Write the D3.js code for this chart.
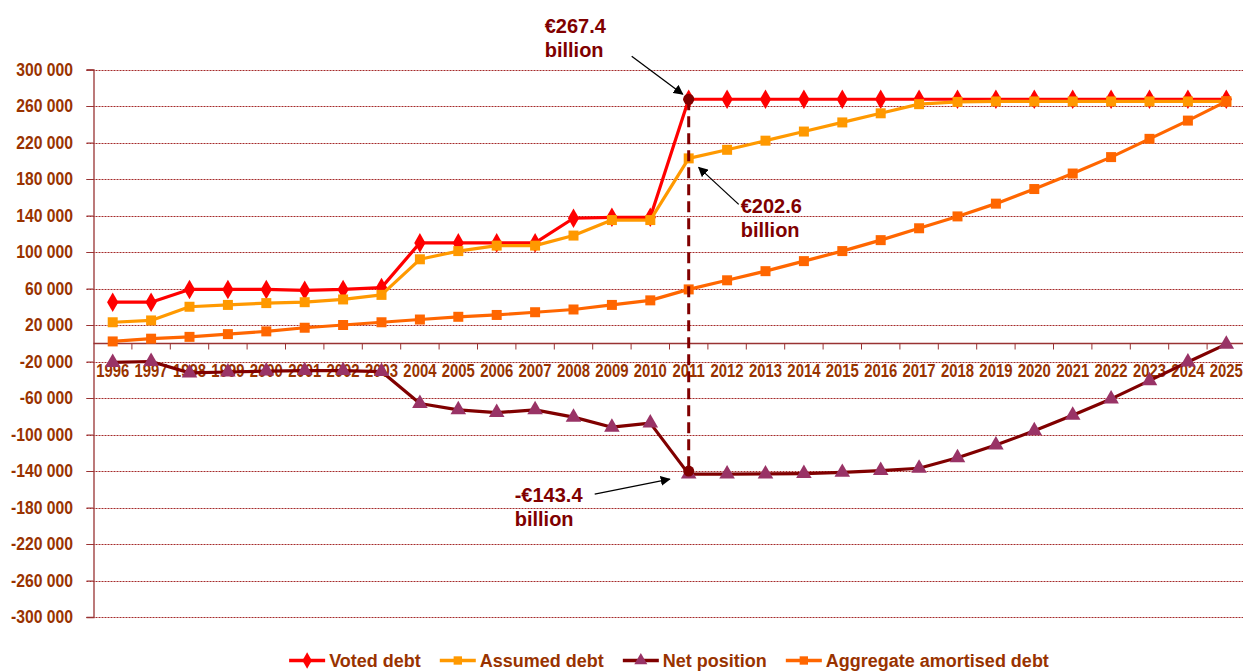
<!DOCTYPE html>
<html>
<head>
<meta charset="utf-8">
<script src="https://cdn.jsdelivr.net/npm/d3@7"></script>
<style>
  body { margin: 0; background: #fff; }
  svg { display: block; }
  text { font-family: "Liberation Sans", Arial, sans-serif; }
</style>
</head>
<body>
<div class="chart"></div>
<script>
// data (millions of euros)
const years = d3.range(1996, 2026).map(String);
const votedDebt = [45000, 45000, 59000, 59000, 59000, 58000, 59000, 61000, 110000, 110000,
  110000, 110000, 137000, 138000, 138000, 267400, 267400, 267400, 267400, 267400,
  267400, 267400, 267400, 267400, 267400, 267400, 267400, 267400, 267400, 267400];
const assumedDebt = [23000, 25000, 40000, 42000, 44000, 45000, 48000, 53000, 92000, 101000,
  107000, 107000, 118000, 135000, 135000, 202600, 212000, 222000, 232000, 242000,
  252000, 262000, 264500, 265000, 265000, 265000, 265000, 265000, 265000, 265000];
const netPosition = [-21000, -20000, -32500, -31500, -30500, -30000, -30000, -31000, -66000, -73000,
  -76000, -73000, -81000, -92000, -87500, -143400, -143400, -143200, -142800, -141500,
  -139500, -137000, -125500, -111500, -96000, -79000, -61000, -41000, -20500, -1000];
const amortisedDebt = [2000, 5000, 7000, 10000, 13000, 17000, 20000, 23000, 26000, 29000,
  31000, 34000, 37000, 42000, 47000, 59000, 69000, 79000, 90000, 101000,
  113000, 126000, 139000, 153000, 169000, 186000, 204000, 224000, 244000, 265000];
const yTicks = d3.range(-300000, 300001, 40000);

const series = [
  {name: "Voted debt", values: votedDebt, line: "#ff0000", mark: "#ff0000", shape: d3.symbolDiamond, size: 110},
  {name: "Assumed debt", values: assumedDebt, line: "#ff9900", mark: "#ff9900", shape: d3.symbolSquare, size: 100},
  {name: "Net position", values: netPosition, line: "#800000", mark: "#993366", shape: d3.symbolTriangle, size: 105},
  {name: "Aggregate amortised debt", values: amortisedDebt, line: "#ff6600", mark: "#ff6600", shape: d3.symbolSquare, size: 100}
];

const W = 1243, H = 671;
const margin = ({top: 69.5, left: 93.5, bottom: 54});
const plotW = 30 * 38.4;
const squeeze = 0.85; // narrow-font look for axis labels

const svg = d3.select(".chart").append("svg")
    .attr("width", W)
    .attr("height", H);

const x = d3.scaleBand()
    .domain(years)
    .range([margin.left, margin.left + plotW])
    .paddingInner(0);
const y = d3.scaleLinear()
    .domain([-300000, 300000])
    .range([H - margin.bottom, margin.top]);

const fmt = d3.formatLocale({decimal: ".", thousands: " ", grouping: [3], currency: ["", ""], minus: "-"}).format(",");

// gridlines
svg.append("g")
  .selectAll("line")
  .data(yTicks)
  .join("line")
    .attr("x1", margin.left - 7)
    .attr("x2", W)
    .attr("y1", d => Math.round(y(d)) + 0.5)
    .attr("y2", d => Math.round(y(d)) + 0.5)
    .attr("stroke", "#a52a2a")
    .attr("stroke-width", 1)
    .attr("stroke-dasharray", "2,1");

// y axis
const yAxis = svg.append("g")
    .attr("transform", `translate(${margin.left},0)`)
    .call(d3.axisLeft(y).tickValues(yTicks).tickFormat(fmt).tickSize(7).tickPadding(13));
yAxis.select(".domain").attr("stroke", "#993333").attr("stroke-width", 1.3);
yAxis.selectAll(".tick line").attr("stroke", "#993333");
yAxis.selectAll("text")
    .attr("x", -20.5 / squeeze)
    .attr("transform", `scale(${squeeze},1)`)
    .attr("fill", "#993300")
    .attr("font-size", 18.5)
    .attr("font-weight", "bold");

// x axis at zero
const x0 = Math.round(y(0)) + 0.5;
svg.append("line")
    .attr("x1", margin.left).attr("x2", W)
    .attr("y1", x0).attr("y2", x0)
    .attr("stroke", "#993333").attr("stroke-width", 1.3);
svg.append("g")
  .selectAll("line")
  .data(years)
  .join("line")
    .attr("x1", d => x(d) + x.bandwidth())
    .attr("x2", d => x(d) + x.bandwidth())
    .attr("y1", x0)
    .attr("y2", x0 + 6)
    .attr("stroke", "#993333");
svg.append("g")
  .selectAll("text")
  .data(years)
  .join("text")
    .attr("transform", d => `translate(${x(d) + x.bandwidth() / 2},${x0 + 33}) scale(${squeeze},1)`)
    .attr("text-anchor", "middle")
    .attr("fill", "#993300")
    .attr("font-size", 17.5)
    .attr("font-weight", "bold")
    .text(d => d);

// lines and markers
const cx = d => x(d) + x.bandwidth() / 2;
series.forEach(s => {
  const pts = years.map((yr, i) => [cx(yr), y(s.values[i])]);
  svg.append("path")
      .attr("d", d3.line()(pts))
      .attr("fill", "none")
      .attr("stroke", s.line)
      .attr("stroke-width", 3.2)
      .attr("stroke-linejoin", "round");
  svg.append("g")
    .selectAll("path")
    .data(pts)
    .join("path")
      .attr("transform", d => `translate(${d[0]},${d[1]})`)
      .attr("d", d3.symbol().type(s.shape).size(s.size))
      .attr("fill", s.mark);
});

// 2011 highlights
const k = years.indexOf("2011");
const px = cx("2011");
const pVoted = [px, y(votedDebt[k])];
const pAssumed = [px, y(assumedDebt[k])];
const pNet = [px, y(netPosition[k])];

svg.append("line")
    .attr("x1", px).attr("x2", px)
    .attr("y1", pVoted[1]).attr("y2", pNet[1])
    .attr("stroke", "#800000")
    .attr("stroke-width", 3)
    .attr("stroke-dasharray", "11,6");
svg.selectAll(".hl")
  .data([pVoted, [px, pNet[1] - 3]])
  .join("circle")
    .attr("cx", d => d[0]).attr("cy", d => d[1])
    .attr("r", 5.5)
    .attr("fill", "#800000");

// annotations
const defs = svg.append("defs");
defs.append("marker")
    .attr("id", "arrow")
    .attr("viewBox", "0 0 10 10")
    .attr("refX", 9).attr("refY", 5)
    .attr("markerWidth", 10).attr("markerHeight", 10)
    .attr("markerUnits", "userSpaceOnUse")
    .attr("orient", "auto")
  .append("path")
    .attr("d", "M0,0 L10,5 L0,10 z")
    .attr("fill", "#000");

const notes = [
  {lines: ["€267.4", "billion"], tx: px - 144, ty: pVoted[1] - 66, from: [px - 57, pVoted[1] - 43], to: [px - 6, pVoted[1] - 5]},
  {lines: ["€202.6", "billion"], tx: px + 52, ty: pAssumed[1] + 55, from: [px + 50, pAssumed[1] + 46], to: [px + 10, pAssumed[1] + 9]},
  {lines: ["-€143.4", "billion"], tx: px - 174, ty: pNet[1] + 28, from: [px - 94, pNet[1] + 20], to: [px - 19, pNet[1] + 5]}
];
notes.forEach(n => {
  svg.append("line")
      .attr("x1", n.from[0]).attr("y1", n.from[1])
      .attr("x2", n.to[0]).attr("y2", n.to[1])
      .attr("stroke", "#000")
      .attr("stroke-width", 1.3)
      .attr("marker-end", "url(#arrow)");
  const t = svg.append("text")
      .attr("x", n.tx).attr("y", n.ty)
      .attr("fill", "#800000")
      .attr("font-weight", "bold")
      .attr("font-size", 20);
  n.lines.forEach((l, i) => t.append("tspan").attr("x", n.tx).attr("dy", i ? 24 : 0).text(l));
});

// legend
const legend = svg.append("g");
let lx = 0;
series.forEach(s => {
  const g = legend.append("g").attr("transform", `translate(${lx},0)`);
  g.append("line").attr("x1", 0).attr("x2", 36).attr("stroke", s.line).attr("stroke-width", 3.5);
  g.append("path").attr("transform", "translate(18,0)")
      .attr("d", d3.symbol().type(s.shape).size(s.size * 0.7)).attr("fill", s.mark);
  const t = g.append("text")
      .attr("x", 40).attr("y", 6.5)
      .attr("fill", "#993300")
      .attr("font-size", 18)
      .attr("font-weight", "bold")
      .text(s.name);
  lx += 40 + t.node().getComputedTextLength() + 19;
});
const total = lx - 19;
legend.attr("transform", `translate(${669 - total / 2},660.5)`);
</script>
</body>
</html>
